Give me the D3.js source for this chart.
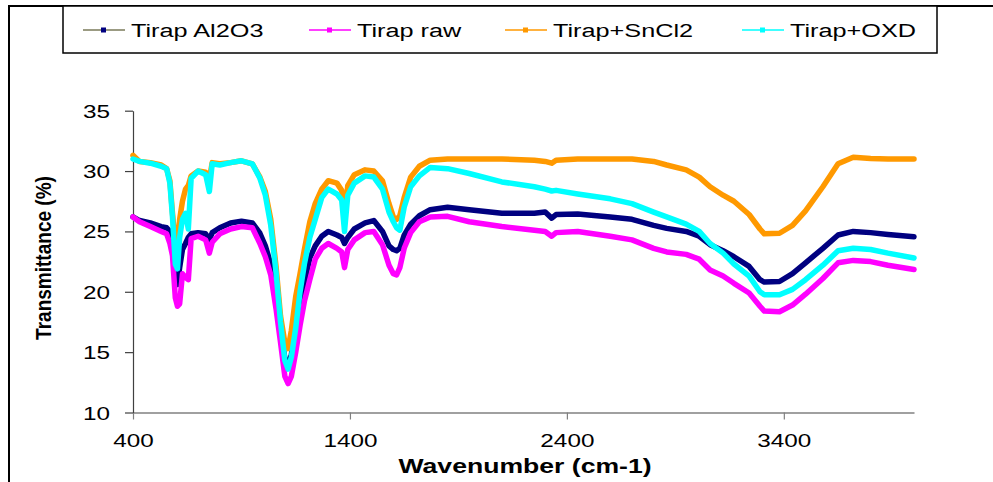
<!DOCTYPE html>
<html><head><meta charset="utf-8">
<script src="https://cdn.jsdelivr.net/npm/d3@7/dist/d3.min.js"></script>
<style>
html,body{margin:0;padding:0;background:#fff;}
svg{display:block;font-family:"Liberation Sans",Arial,sans-serif;}
</style></head>
<body><svg id="c" width="993" height="482"></svg>
<script>
const wavenumbers = [400,430,480,530,555,570,582,595,605,615,628,642,655,668,700,735,752,765,800,850,900,950,985,1010,1035,1060,1080,1100,1115,1130,1150,1170,1190,1215,1240,1270,1300,1340,1362,1375,1390,1420,1470,1510,1550,1580,1600,1615,1630,1650,1680,1720,1770,1850,1950,2100,2250,2300,2330,2350,2450,2600,2700,2800,2860,2950,3010,3060,3120,3170,3240,3290,3310,3380,3440,3500,3580,3650,3720,3800,3880,4000];
const tirapAl2O3 = [26.2,25.9,25.7,25.4,25.3,25.0,24.0,21.5,20.6,22.0,23.5,24.0,24.5,24.8,24.9,24.8,24.3,24.9,25.3,25.7,25.85,25.7,24.85,23.8,22.3,19.8,16.8,14.5,13.9,14.8,17.0,19.0,20.8,22.8,23.8,24.6,25.0,24.7,24.5,24.0,24.5,25.2,25.7,25.9,25.0,23.8,23.5,23.4,23.6,24.7,25.6,26.3,26.8,27.0,26.8,26.5,26.5,26.6,26.1,26.4,26.45,26.2,26.0,25.5,25.25,25.0,24.6,23.9,23.4,22.9,22.1,21.0,20.8,20.85,21.5,22.4,23.6,24.7,25.0,24.9,24.75,24.55];
const tirapRaw = [26.2,25.8,25.4,25.0,24.8,24.0,23.0,19.5,18.8,19.0,21.5,21.2,21.0,24.4,24.6,24.3,23.2,24.1,24.8,25.2,25.4,25.3,24.0,22.9,21.4,18.5,15.8,13.0,12.4,13.0,15.0,17.2,19.2,21.0,22.7,23.6,24.0,23.6,23.3,22.0,23.5,24.3,24.9,25.0,23.9,22.2,21.5,21.4,22.0,23.6,24.9,25.8,26.2,26.25,25.8,25.4,25.1,25.0,24.6,24.9,25.0,24.6,24.3,23.6,23.3,23.1,22.7,21.8,21.3,20.7,19.9,18.8,18.4,18.35,18.9,19.8,21.1,22.4,22.6,22.5,22.2,21.85];
const tirapSnCl2 = [31.3,30.8,30.7,30.5,30.2,29.2,26.5,24.0,23.8,26.0,27.5,28.5,28.8,29.6,30.0,29.9,29.3,30.7,30.6,30.7,30.85,30.6,29.5,28.3,26.0,22.0,18.0,15.8,15.3,16.8,19.6,21.5,23.5,25.8,27.3,28.5,29.2,29.0,28.4,26.0,28.8,29.7,30.1,30.0,29.2,27.3,26.2,26.0,26.3,27.8,29.5,30.4,30.9,31.0,31.0,31.0,30.9,30.8,30.65,30.9,31.0,31.0,31.0,30.8,30.5,30.1,29.5,28.7,28.0,27.5,26.4,25.2,24.8,24.85,25.5,26.7,28.7,30.6,31.15,31.05,31.0,31.0];
const tirapOXD = [31.0,30.8,30.65,30.4,30.2,29.0,26.2,22.3,21.9,24.5,26.0,26.5,25.2,29.4,30.0,29.7,28.3,30.6,30.5,30.7,30.85,30.6,29.4,28.0,25.5,21.5,17.5,14.3,13.6,14.6,17.0,20.0,22.3,24.5,26.0,27.8,28.5,28.1,27.6,25.0,28.0,29.0,29.6,29.5,28.5,26.6,25.8,25.3,25.1,27.0,28.7,29.6,30.3,30.2,29.8,29.1,28.7,28.5,28.35,28.4,28.1,27.7,27.3,26.6,26.2,25.6,25.0,24.0,23.2,22.3,21.3,20.0,19.75,19.75,20.2,21.0,22.2,23.4,23.6,23.5,23.2,22.8];
const seriesNames = ["Tirap Al2O3","Tirap raw","Tirap+SnCl2","Tirap+OXD"];
const seriesColors = ["#000080","#FF00FF","#FF9900","#00FFFF"];
const legendLineColors = ["#7a7a5a","#FF00FF","#FF9900","#00FFFF"];
const xTicks = [400,1400,2400,3400];
const yTicks = [10,15,20,25,30,35];
const xTitle = "Wavenumber (cm-1)";
const yTitle = "Transmittance (%)";

const svg = d3.select("#c");
const x = d3.scaleLinear().domain([400,4000]).range([133,914]);
const y = d3.scaleLinear().domain([10,35]).range([412.5,110.7]);

// outer frame
svg.append("line").attr("x1",9).attr("x2",9).attr("y1",6).attr("y2",482).attr("stroke","#000").attr("stroke-width",2);
svg.append("line").attr("x1",8).attr("x2",993).attr("y1",6).attr("y2",6).attr("stroke","#000").attr("stroke-width",2);

// axes
const ax = svg.append("g").attr("transform",`translate(0,${y(10)})`)
  .call(d3.axisBottom(x).tickValues(xTicks).tickSize(7).tickSizeOuter(0).tickFormat(d3.format("d")));
ax.select(".domain").attr("stroke","#808080").attr("stroke-width",1.5);
ax.selectAll(".tick line").attr("stroke","#808080").attr("stroke-width",1.2);
ax.selectAll(".tick text").attr("y",0).attr("dy",null).attr("font-size",18)
  .attr("fill","#000").attr("font-family","Liberation Sans, Arial, sans-serif")
  .attr("transform","translate(0,34) scale(1.35,1)");

const ay = svg.append("g").attr("transform",`translate(${x(400)},0)`)
  .call(d3.axisLeft(y).tickValues(yTicks).tickSize(8).tickSizeOuter(0).tickFormat(d3.format("d")));
ay.select(".domain").attr("stroke","#404040").attr("stroke-width",1.2);
ay.selectAll(".tick line").attr("stroke","#404040").attr("stroke-width",1.2);
ay.selectAll(".tick text").attr("x",0).attr("dy",null).attr("font-size",18)
  .attr("fill","#000").attr("font-family","Liberation Sans, Arial, sans-serif")
  .attr("transform","translate(-23,6.5) scale(1.35,1)");

// axis titles
svg.append("text").attr("transform","translate(525,473) scale(1.33,1)")
  .attr("text-anchor","middle").attr("font-size",20).attr("font-weight","bold").text(xTitle);
svg.append("text").attr("transform","translate(51,258) rotate(-90) scale(1.12,1.3)")
  .attr("text-anchor","middle").attr("font-size",17).attr("font-weight","bold").text(yTitle);

// series
const data = [tirapAl2O3, tirapRaw, tirapSnCl2, tirapOXD];
const line = d3.line().x((d,i)=>x(wavenumbers[i])).y(d=>y(d));
const plot = svg.append("g");
data.forEach((vals,k)=>{
  plot.append("path").datum(vals).attr("d",line).attr("fill","none")
    .attr("stroke",seriesColors[k]).attr("stroke-width",5.5)
    .attr("stroke-linejoin","round").attr("stroke-linecap","round");
});

// legend
const lg = svg.append("g");
lg.append("rect").attr("x",63).attr("y",6).attr("width",874).attr("height",47)
  .attr("fill","#fff").attr("stroke","#000").attr("stroke-width",1.5);
const legX = [83,309,505,742];
seriesNames.forEach((n,k)=>{
  const g = lg.append("g").attr("transform",`translate(${legX[k]},30)`);
  g.append("line").attr("x1",0).attr("x2",42).attr("y1",0).attr("y2",0)
    .attr("stroke",legendLineColors[k]).attr("stroke-width",1.6);
  g.append("rect").attr("x",18).attr("y",-2.5).attr("width",5).attr("height",5).attr("fill",seriesColors[k]);
  g.append("text").attr("transform","translate(48,7) scale(1.33,1)")
    .attr("font-size",19).text(n);
});
</script></body></html>
